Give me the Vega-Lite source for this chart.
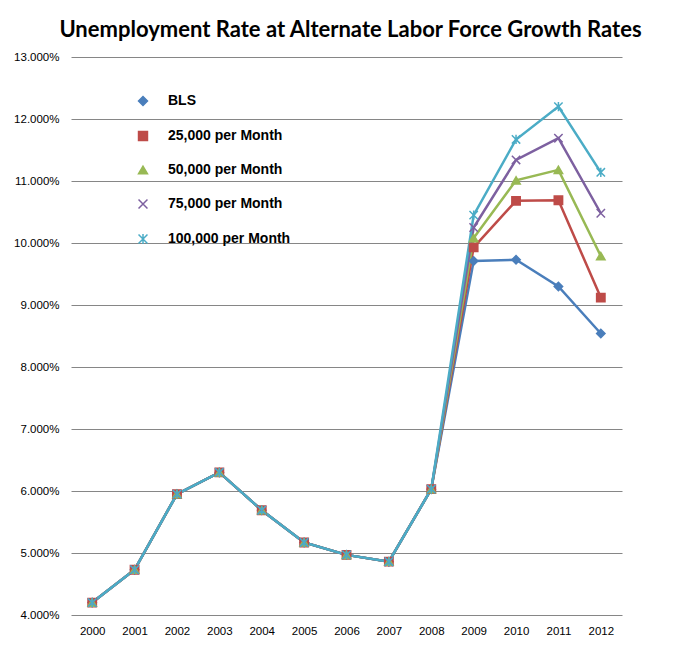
{
  "$schema": "https://vega.github.io/schema/vega-lite/v6.json",
  "description": "Unemployment Rate at Alternate Labor Force Growth Rates",
  "width": 551,
  "height": 558,
  "autosize": {"type": "none"},
  "padding": {"left": 71, "top": 57, "right": 66, "bottom": 37},
  "background": "white",
  "title": {
    "text": "Unemployment Rate at Alternate Labor Force Growth Rates",
    "font": "Lato",
    "fontSize": 22,
    "fontWeight": "bold",
    "color": "black",
    "frame": "group",
    "anchor": "middle",
    "offset": 9,
    "dx": 4
  },
  "config": {
    "view": {"stroke": null},
    "axis": {
      "labelFont": "Liberation Sans",
      "labelFontSize": 11.5,
      "labelColor": "black",
      "domain": false,
      "ticks": false,
      "title": null
    }
  },
  "data": {
    "values": [
      {"year": "2000", "series": "BLS", "rate": 0.0420},
      {"year": "2001", "series": "BLS", "rate": 0.0473},
      {"year": "2002", "series": "BLS", "rate": 0.0595},
      {"year": "2003", "series": "BLS", "rate": 0.0630},
      {"year": "2004", "series": "BLS", "rate": 0.0569},
      {"year": "2005", "series": "BLS", "rate": 0.0517},
      {"year": "2006", "series": "BLS", "rate": 0.0497},
      {"year": "2007", "series": "BLS", "rate": 0.0486},
      {"year": "2008", "series": "BLS", "rate": 0.0603},
      {"year": "2009", "series": "BLS", "rate": 0.0971},
      {"year": "2010", "series": "BLS", "rate": 0.0973},
      {"year": "2011", "series": "BLS", "rate": 0.0930},
      {"year": "2012", "series": "BLS", "rate": 0.0854},
      {"year": "2000", "series": "25,000 per Month", "rate": 0.0420},
      {"year": "2001", "series": "25,000 per Month", "rate": 0.0473},
      {"year": "2002", "series": "25,000 per Month", "rate": 0.0595},
      {"year": "2003", "series": "25,000 per Month", "rate": 0.0630},
      {"year": "2004", "series": "25,000 per Month", "rate": 0.0569},
      {"year": "2005", "series": "25,000 per Month", "rate": 0.0517},
      {"year": "2006", "series": "25,000 per Month", "rate": 0.0497},
      {"year": "2007", "series": "25,000 per Month", "rate": 0.0486},
      {"year": "2008", "series": "25,000 per Month", "rate": 0.0603},
      {"year": "2009", "series": "25,000 per Month", "rate": 0.0993},
      {"year": "2010", "series": "25,000 per Month", "rate": 0.1068},
      {"year": "2011", "series": "25,000 per Month", "rate": 0.1069},
      {"year": "2012", "series": "25,000 per Month", "rate": 0.0912},
      {"year": "2000", "series": "50,000 per Month", "rate": 0.0420},
      {"year": "2001", "series": "50,000 per Month", "rate": 0.0473},
      {"year": "2002", "series": "50,000 per Month", "rate": 0.0595},
      {"year": "2003", "series": "50,000 per Month", "rate": 0.0630},
      {"year": "2004", "series": "50,000 per Month", "rate": 0.0569},
      {"year": "2005", "series": "50,000 per Month", "rate": 0.0517},
      {"year": "2006", "series": "50,000 per Month", "rate": 0.0497},
      {"year": "2007", "series": "50,000 per Month", "rate": 0.0486},
      {"year": "2008", "series": "50,000 per Month", "rate": 0.0603},
      {"year": "2009", "series": "50,000 per Month", "rate": 0.1008},
      {"year": "2010", "series": "50,000 per Month", "rate": 0.1101},
      {"year": "2011", "series": "50,000 per Month", "rate": 0.1118},
      {"year": "2012", "series": "50,000 per Month", "rate": 0.0979},
      {"year": "2000", "series": "75,000 per Month", "rate": 0.0420},
      {"year": "2001", "series": "75,000 per Month", "rate": 0.0473},
      {"year": "2002", "series": "75,000 per Month", "rate": 0.0595},
      {"year": "2003", "series": "75,000 per Month", "rate": 0.0630},
      {"year": "2004", "series": "75,000 per Month", "rate": 0.0569},
      {"year": "2005", "series": "75,000 per Month", "rate": 0.0517},
      {"year": "2006", "series": "75,000 per Month", "rate": 0.0497},
      {"year": "2007", "series": "75,000 per Month", "rate": 0.0486},
      {"year": "2008", "series": "75,000 per Month", "rate": 0.0603},
      {"year": "2009", "series": "75,000 per Month", "rate": 0.1025},
      {"year": "2010", "series": "75,000 per Month", "rate": 0.1134},
      {"year": "2011", "series": "75,000 per Month", "rate": 0.1169},
      {"year": "2012", "series": "75,000 per Month", "rate": 0.1048},
      {"year": "2000", "series": "100,000 per Month", "rate": 0.0420},
      {"year": "2001", "series": "100,000 per Month", "rate": 0.0473},
      {"year": "2002", "series": "100,000 per Month", "rate": 0.0595},
      {"year": "2003", "series": "100,000 per Month", "rate": 0.0630},
      {"year": "2004", "series": "100,000 per Month", "rate": 0.0569},
      {"year": "2005", "series": "100,000 per Month", "rate": 0.0517},
      {"year": "2006", "series": "100,000 per Month", "rate": 0.0497},
      {"year": "2007", "series": "100,000 per Month", "rate": 0.0486},
      {"year": "2008", "series": "100,000 per Month", "rate": 0.0603},
      {"year": "2009", "series": "100,000 per Month", "rate": 0.1045},
      {"year": "2010", "series": "100,000 per Month", "rate": 0.1167},
      {"year": "2011", "series": "100,000 per Month", "rate": 0.1220},
      {"year": "2012", "series": "100,000 per Month", "rate": 0.1114}
    ]
  },
  "encoding": {
    "x": {
      "field": "year",
      "type": "ordinal",
      "scale": {"type": "point", "padding": 0.5},
      "axis": {"labelAngle": 0, "labelPadding": 10, "grid": false}
    },
    "y": {
      "field": "rate",
      "type": "quantitative",
      "scale": {"domain": [0.04, 0.13], "nice": false, "zero": false},
      "axis": {
        "values": [0.04, 0.05, 0.06, 0.07, 0.08, 0.09, 0.10, 0.11, 0.12, 0.13],
        "format": ".3%",
        "labelPadding": 12,
        "grid": true,
        "gridColor": "#868686",
        "gridWidth": 1
      }
    },
    "color": {
      "field": "series",
      "type": "nominal",
      "scale": {
        "domain": ["BLS", "25,000 per Month", "50,000 per Month", "75,000 per Month", "100,000 per Month"],
        "range": ["#4A7EBB", "#BE4B48", "#98B954", "#7D60A0", "#4BACC6"]
      },
      "legend": {
        "orient": "none",
        "legendX": 65,
        "legendY": 37,
        "title": null,
        "padding": 0,
        "symbolSize": 80,
        "symbolStrokeWidth": 1.5,
        "labelOffset": 18,
        "rowPadding": 19,
        "labelFont": "Liberation Sans",
        "labelFontSize": 14,
        "labelFontWeight": "bold",
        "labelColor": "black",
        "labelLimit": 300
      }
    }
  },
  "layer": [
    {
      "mark": {"type": "line", "strokeWidth": 2.5}
    },
    {
      "mark": {"type": "point", "filled": true, "size": 70, "strokeWidth": 1.5, "opacity": 1},
      "encoding": {
        "shape": {
          "field": "series",
          "type": "nominal",
          "scale": {
            "domain": ["BLS", "25,000 per Month", "50,000 per Month", "75,000 per Month", "100,000 per Month"],
            "range": ["diamond", "square", "triangle-up", "M-1,-1L1,1M-1,1L1,-1", "M-1,-1L1,1M-1,1L1,-1M0,-1.1L0,1.1"]
          },
          "legend": null
        },
        "stroke": {
          "field": "series",
          "type": "nominal",
          "scale": {
            "domain": ["BLS", "25,000 per Month", "50,000 per Month", "75,000 per Month", "100,000 per Month"],
            "range": ["#4A7EBB", "#BE4B48", "#98B954", "#7D60A0", "#4BACC6"]
          },
          "legend": null
        }
      }
    }
  ]
}
